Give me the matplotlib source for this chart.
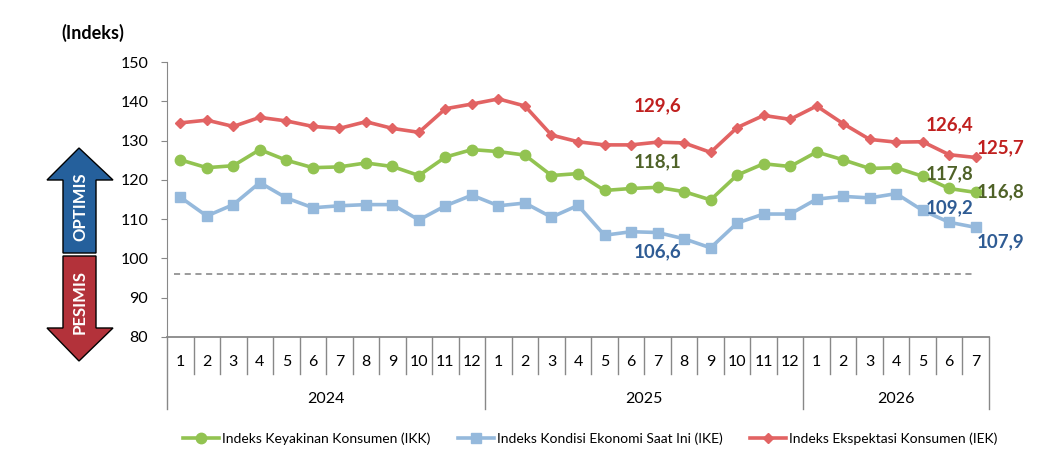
import matplotlib.pyplot as plt
from matplotlib.patches import Polygon
from matplotlib.lines import Line2D
import matplotlib.transforms as mtransforms

plt.rcParams['font.family'] = ['Lato', 'DejaVu Sans']

# data
months = [str(m) for m in range(1, 13)] * 2 + [str(m) for m in range(1, 8)]
years = ['2024', '2025', '2026']
year_len = [12, 12, 7]

ikk = [125.1, 123.1, 123.6, 127.7, 125.0, 123.1, 123.3, 124.3, 123.4, 121.1, 125.8, 127.7,
       127.2, 126.3, 121.1, 121.6, 117.3, 117.8, 118.1, 117.0, 114.9, 121.2, 124.1, 123.4,
       127.1, 125.1, 122.9, 123.1, 120.9, 117.8, 116.8]
ike = [115.6, 110.8, 113.7, 119.3, 115.4, 112.9, 113.4, 113.7, 113.7, 109.8, 113.4, 116.1,
       113.4, 114.1, 110.5, 113.5, 105.9, 106.8, 106.6, 105.0, 102.7, 109.0, 111.3, 111.3,
       115.1, 115.8, 115.4, 116.5, 112.2, 109.2, 107.9]
iek = [134.5, 135.2, 133.6, 135.9, 135.0, 133.6, 133.1, 134.8, 133.1, 132.1, 138.1, 139.3,
       140.6, 138.8, 131.4, 129.7, 128.9, 128.9, 129.6, 129.4, 127.0, 133.3, 136.4, 135.4,
       138.8, 134.3, 130.3, 129.6, 129.7, 126.4, 125.7]
threshold = 96

names = ['Indeks Keyakinan Konsumen (IKK)', 'Indeks Kondisi Ekonomi Saat Ini (IKE)',
         'Indeks Ekspektasi Konsumen (IEK)']

c_green, c_blue, c_red = '#92C351', '#95B9DC', '#E26363'
t_green, t_blue, t_red = '#4F6228', '#2F5C94', '#C0201F'

W, H = 1058, 470
fig = plt.figure(figsize=(W / 100, H / 100), dpi=100)
ax = fig.add_axes([167 / W, 1 - 337 / H, (989 - 167) / W, (337 - 62) / H])

x = list(range(len(months)))
ax.plot([-0.25, 30], [threshold, threshold], color='#808080', lw=1.1, ls=(0, (4, 3)))
ax.plot(x, ike, color=c_blue, lw=2.6, marker='s', ms=6.5, zorder=3)
ax.plot(x, ikk, color=c_green, lw=2.6, marker='o', ms=7.5, zorder=4)
ax.plot(x, iek, color=c_red, lw=2.6, marker='D', ms=5.5, zorder=5)

ax.set_xlim(-0.5, len(months) - 0.5)
ax.set_ylim(80, 150)
ax.set_yticks(range(80, 151, 10))
ax.tick_params(axis='y', labelsize=11.5, length=4.5, color='#888888', pad=9)
ax.set_xticks([])
for s in ['top', 'right']:
    ax.spines[s].set_visible(False)
ax.spines['left'].set_color('#888888')
ax.spines['bottom'].set_color('#888888')
ax.spines['bottom'].set_linewidth(1.3)

# category axis with months and years
tr = mtransforms.blended_transform_factory(ax.transData, ax.transAxes)
year_edges = [-0.5]
for n in year_len:
    year_edges.append(year_edges[-1] + n)
for b in range(len(months) + 1):
    xb = b - 0.5
    depth = -0.26 if xb in year_edges else -0.135
    ax.plot([xb, xb], [0, depth], transform=tr, color='#888888', lw=1, clip_on=False)
for i, m in enumerate(months):
    ax.text(i, -0.09, m, transform=tr, ha='center', va='center', fontsize=11.5)
for k, yname in enumerate(years):
    ax.text((year_edges[k] + year_edges[k + 1]) / 2, -0.225, yname, transform=tr,
            ha='center', va='center', fontsize=11.5)

# value labels
def lab(i, v, dy, col, ha='center', dx=0):
    ax.text(i + dx, v + dy, f'{v:.1f}'.replace('.', ','), ha=ha, va='center',
            fontsize=13.5, fontweight='bold', color=col, zorder=6)

lab(18, iek[18], 9.2, t_red)
lab(18, ikk[18], 6.4, t_green)
lab(18, ike[18], -4.8, t_blue)
lab(29, iek[29], 7.6, t_red)
lab(29, ikk[29], 3.8, t_green)
lab(29, ike[29], 3.7, t_blue)
lab(30, iek[30], 2.5, t_red, ha='left', dx=0.02)
lab(30, ikk[30], 0.2, t_green, ha='left', dx=0.02)
lab(30, ike[30], -3.6, t_blue, ha='left', dx=0.02)

fig.text(93 / W, 1 - 33 / H, '(Indeks)', ha='center', va='center', fontsize=13, fontweight='bold')

# optimis / pesimis arrows
def fpt(px, py):
    return (px / W, 1 - py / H)

up = [fpt(79, 148), fpt(113, 180), fpt(96, 180), fpt(96, 253), fpt(63, 253), fpt(63, 180), fpt(47, 180)]
down = [fpt(63, 256), fpt(96, 256), fpt(96, 328), fpt(113, 328), fpt(79, 361), fpt(47, 328), fpt(63, 328)]
fig.patches.append(Polygon(up, closed=True, transform=fig.transFigure, facecolor='#25609C',
                           edgecolor='black', lw=1))
fig.patches.append(Polygon(down, closed=True, transform=fig.transFigure, facecolor='#B3323A',
                           edgecolor='black', lw=1))
fig.text(80 / W, 1 - 207 / H, 'OPTIMIS', rotation=90, ha='center', va='center', color='white',
         fontsize=12, fontweight='bold')
fig.text(80 / W, 1 - 302 / H, 'PESIMIS', rotation=90, ha='center', va='center', color='white',
         fontsize=12, fontweight='bold')

handles = [Line2D([], [], color=c_green, lw=2.6, marker='o', ms=7.5),
           Line2D([], [], color=c_blue, lw=2.6, marker='s', ms=6.5),
           Line2D([], [], color=c_red, lw=2.6, marker='D', ms=5.5)]
fig.legend(handles, names, loc='center', bbox_to_anchor=(590 / W, 1 - 439 / H), ncol=3,
           frameon=False, fontsize=10, handlelength=2.6, handletextpad=0.2, columnspacing=2.0)

fig.savefig('out.png', dpi=100)
